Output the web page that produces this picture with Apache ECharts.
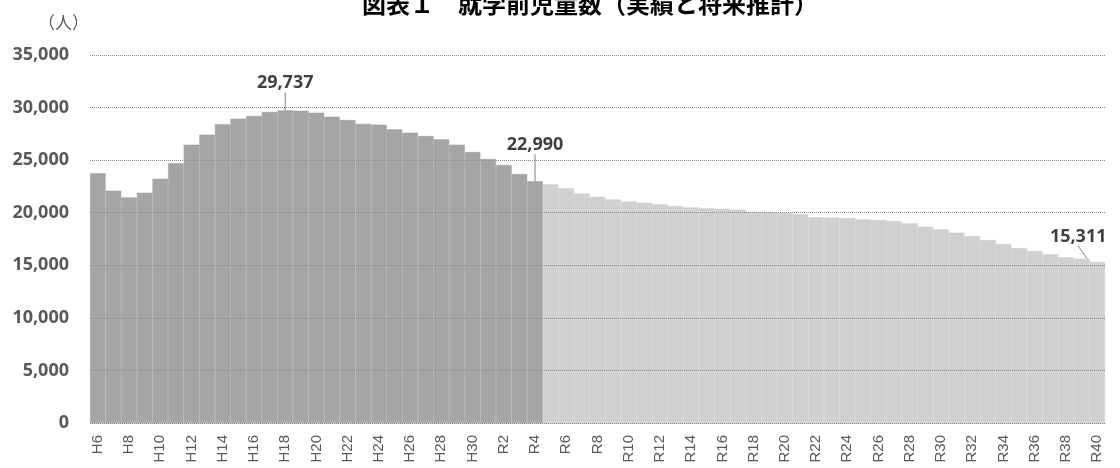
<!DOCTYPE html>
<html>
<head>
<meta charset="utf-8">
<script src="https://cdn.jsdelivr.net/npm/echarts@6/dist/echarts.min.js"></script>
<style>
html,body{margin:0;padding:0;background:#fff;}
#chart{width:1120px;height:468px;}
</style>
</head>
<body>
<div id="chart"></div>
<script>
const categories = [
  'H6','H7','H8','H9','H10','H11','H12','H13','H14','H15','H16','H17','H18','H19','H20',
  'H21','H22','H23','H24','H25','H26','H27','H28','H29','H30','R1','R2','R3','R4',
  'R5','R6','R7','R8','R9','R10','R11','R12','R13','R14','R15','R16','R17','R18','R19','R20',
  'R21','R22','R23','R24','R25','R26','R27','R28','R29','R30','R31','R32','R33','R34','R35',
  'R36','R37','R38','R39','R40'
];
const actual = [23750, 22090, 21460, 21900, 23230, 24700, 26470, 27420, 28430, 28940,
  29200, 29580, 29737, 29700, 29510, 29130, 28815, 28450, 28380, 27930,
  27610, 27290, 26980, 26470, 25770, 25110, 24540, 23680, 22990];
const projected = [22700, 22320, 21840, 21520, 21270, 21080, 20950, 20800, 20640, 20510,
  20440, 20380, 20290, 20100, 20070, 20000, 19880, 19570, 19540, 19500,
  19370, 19300, 19210, 18990, 18670, 18420, 18100, 17780, 17400, 17020,
  16640, 16360, 16040, 15760, 15630, 15311];
const labelled = ['H18', 'R4', 'R40'];
const yTicks = [0, 5000, 10000, 15000, 20000, 25000, 30000, 35000];

const DARK = '#a5a5a5', LIGHT = '#d0d0d0';
const values = actual.concat(projected);
const labelIdx = labelled.map(c => categories.indexOf(c));
const data = values.map((v, i) => {
  const c = i < actual.length ? DARK : LIGHT;
  return {
    value: v,
    itemStyle: { color: c, borderColor: c, borderWidth: 0.6 },
    label: { show: labelIdx.includes(i) }
  };
});
const shifts = {};
shifts[labelIdx[0]] = { dx: 0, dy: -13 };
shifts[labelIdx[1]] = { dx: 0, dy: -22 };
shifts[labelIdx[2]] = { dx: -19, dy: -11 };

const chart = echarts.init(document.getElementById('chart'), null, { renderer: 'canvas' });
chart.setOption({
  animation: false,
  title: {
    text: '図表１　就学前児童数（実績と将来推計）',
    left: 362,
    top: -9,
    padding: 0,
    textStyle: { fontSize: 24, lineHeight: 26, fontWeight: 'bold', color: '#000', fontFamily: 'Noto Sans CJK JP' }
  },
  graphic: [{
    type: 'text',
    left: 38,
    top: 14,
    z: 10,
    style: { text: '（人）', font: '17px "Noto Sans CJK JP"', fill: '#595959' }
  }],
  grid: { left: 90, right: 15, top: 55, bottom: 45 },
  xAxis: {
    type: 'category',
    data: categories,
    axisLine: { show: true, lineStyle: { color: '#d9d9d9', width: 1 } },
    axisTick: { show: false },
    axisLabel: {
      interval: 1,
      rotate: 90,
      fontSize: 15,
      color: '#595959',
      fontFamily: 'Liberation Sans',
      margin: 12
    }
  },
  yAxis: {
    type: 'value',
    min: yTicks[0],
    max: yTicks[yTicks.length - 1],
    interval: 5000,
    z: 5,
    axisLine: { show: false },
    axisTick: { show: false },
    splitLine: { show: true, lineStyle: { type: 'dotted', color: '#8a8a8a', width: 1 } },
    axisLabel: {
      fontSize: 18,
      fontWeight: 'bold',
      color: '#595959',
      fontFamily: 'Open Sans',
      margin: 21,
      formatter: v => v.toLocaleString('en-US')
    }
  },
  series: [{
    type: 'bar',
    data: data,
    barCategoryGap: 0,
    z: 2,
    label: {
      position: 'top',
      distance: 5,
      fontSize: 18,
      fontWeight: 'bold',
      color: '#404040',
      fontFamily: 'Open Sans',
      formatter: p => p.value.toLocaleString('en-US')
    },
    labelLine: { show: true, lineStyle: { color: '#7f7f7f', width: 1 } },
    labelLayout: p => shifts[p.dataIndex] || {}
  }]
});
</script>
</body>
</html>
